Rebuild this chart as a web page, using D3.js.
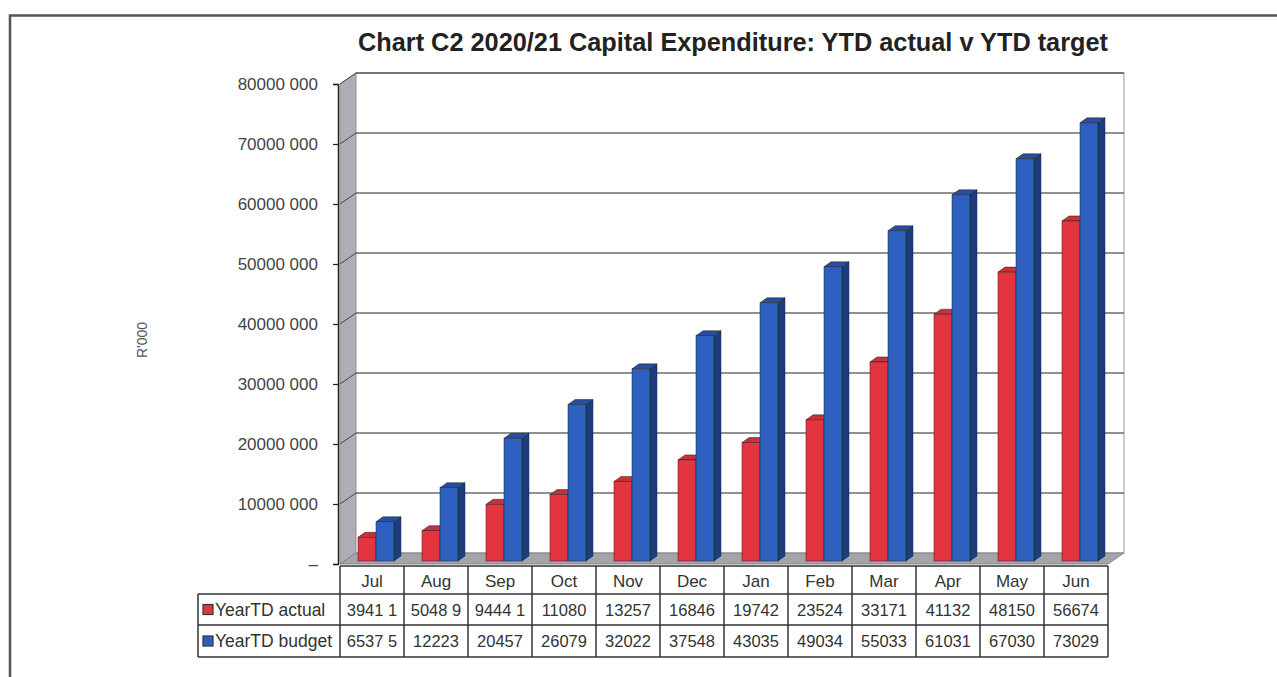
<!DOCTYPE html>
<html>
<head>
<meta charset="utf-8">
<script src="https://cdn.jsdelivr.net/npm/d3@7"></script>
<style>
  body { margin: 0; background: #fff; }
  svg { display: block; font-family: Arial, "Liberation Sans", sans-serif; }
</style>
</head>
<body>
<div id="chart"></div>
<script>
// months along the bottom
var months = ["Jul", "Aug", "Sep", "Oct", "Nov", "Dec", "Jan", "Feb", "Mar", "Apr", "May", "Jun"];
// YTD values (R'000)
var ytdActual = [3941100, 5048900, 9444100, 11080000, 13257000, 16846000, 19742000, 23524000, 33171000, 41132000, 48150000, 56674000];
var ytdBudget = [6537500, 12223000, 20457000, 26079000, 32022000, 37548000, 43035000, 49034000, 55033000, 61031000, 67030000, 73029000];
// text shown in the data table (as printed)
var actualLabels = ["3941 1", "5048 9", "9444 1", "11080", "13257", "16846", "19742", "23524", "33171", "41132", "48150", "56674"];
var budgetLabels = ["6537 5", "12223", "20457", "26079", "32022", "37548", "43035", "49034", "55033", "61031", "67030", "73029"];
var seriesNames = ["YearTD actual", "YearTD budget"];
var yTicks = [0, 10000000, 20000000, 30000000, 40000000, 50000000, 60000000, 70000000, 80000000];
var yTickLabels = ["\u2013", "10000 000", "20000 000", "30000 000", "40000 000", "50000 000", "60000 000", "70000 000", "80000 000"];

var W = 1277, H = 677;
var svg = d3.select("#chart").append("svg").attr("width", W).attr("height", H);

// page frame
svg.append("path").attr("d", "M10,677 L10,15.5 L1277,15.5")
  .attr("fill", "none").attr("stroke", "#555").attr("stroke-width", 2.5);

// title
svg.append("text")
  .attr("x", 733).attr("y", 51)
  .attr("text-anchor", "middle")
  .attr("font-family", "'Liberation Sans Narrow', 'Arial Narrow', Arial, sans-serif")
  .attr("font-weight", "bold").attr("font-size", 25)
  .attr("textLength", 750).attr("lengthAdjust", "spacingAndGlyphs")
  .attr("fill", "#222")
  .text("Chart C2 2020/21 Capital Expenditure: YTD actual v YTD target");

// scales
var x0 = 340, x1 = 1108;
var x = d3.scaleBand().domain(months).range([x0, x1]);
var y = d3.scaleLinear().domain([0, 80000000]).range([564, 84]);
var dx = 16, dy = -11; // wall depth

// side wall
svg.append("polygon")
  .attr("points", [[x0, y(80000000)], [x0 + dx, y(80000000) + dy], [x0 + dx, y(0) + dy], [x0, y(0)]].join(" "))
  .attr("fill", "#aeaeb8").attr("stroke", "#888").attr("stroke-width", 0.8);
// back wall
svg.append("rect")
  .attr("x", x0 + dx).attr("y", y(80000000) + dy)
  .attr("width", x1 - x0).attr("height", y(0) - y(80000000))
  .attr("fill", "#fff").attr("stroke", "#999").attr("stroke-width", 1);
// floor
svg.append("polygon")
  .attr("points", [[x0, y(0)], [x1, y(0)], [x1 + dx, y(0) + dy], [x0 + dx, y(0) + dy]].join(" "))
  .attr("fill", "#a4a4ac").attr("stroke", "#777").attr("stroke-width", 0.8);

// gridlines on back and side walls
var grid = svg.append("g");
yTicks.slice(1).forEach(function(v) {
  grid.append("line")
    .attr("x1", x0 + dx).attr("x2", x1 + dx)
    .attr("y1", y(v) + dy).attr("y2", y(v) + dy)
    .attr("stroke", "#222").attr("stroke-width", 1.2);
  grid.append("line")
    .attr("x1", x0).attr("x2", x0 + dx)
    .attr("y1", y(v)).attr("y2", y(v) + dy)
    .attr("stroke", "#444").attr("stroke-width", 1);
});

// y axis
var yAxis = svg.append("g")
  .attr("transform", "translate(" + (x0 - 2) + ",0)")
  .call(d3.axisLeft(y).tickValues(yTicks).tickSize(5).tickPadding(15)
    .tickFormat(function(d, i) { return yTickLabels[i]; }));
yAxis.select(".domain").attr("stroke", "#222").attr("stroke-width", 1.5);
yAxis.selectAll(".tick line").attr("stroke", "#222").attr("stroke-width", 1.2);
yAxis.selectAll(".tick text").attr("font-size", 17).attr("fill", "#444")
  .attr("font-family", "Arial, 'Liberation Sans', sans-serif");

svg.append("text")
  .attr("transform", "translate(147,340) rotate(-90)")
  .attr("text-anchor", "middle").attr("font-size", 14).attr("fill", "#555")
  .text("R'000");

// bars
var barW = 18, bdx = 7, bdy = -5, shiftX = 4, shiftY = -3;
var colors = [
  { front: "#e3353f", side: "#a51e28", top: "#c8303a" },
  { front: "#2d5fbe", side: "#1d3d80", top: "#274f9e" }
];
var bars = [];
months.forEach(function(m, i) {
  bars.push({ m: m, s: 0, v: ytdActual[i] });
  bars.push({ m: m, s: 1, v: ytdBudget[i] });
});
var bg = svg.append("g").selectAll("g").data(bars).enter().append("g")
  .attr("transform", function(d) {
    var cx = x(d.m) + x.bandwidth() / 2 + shiftX;
    return "translate(" + (cx - barW + d.s * barW) + "," + shiftY + ")";
  });
bg.append("polygon")
  .attr("points", function(d) {
    var t = y(d.v), b = y(0);
    return [[barW, t], [barW + bdx, t + bdy], [barW + bdx, b + bdy], [barW, b]].join(" ");
  })
  .attr("fill", function(d) { return colors[d.s].side; })
  .attr("stroke", "#222").attr("stroke-width", 0.5);
bg.append("polygon")
  .attr("points", function(d) {
    var t = y(d.v);
    return [[0, t], [bdx, t + bdy], [barW + bdx, t + bdy], [barW, t]].join(" ");
  })
  .attr("fill", function(d) { return colors[d.s].top; })
  .attr("stroke", "#222").attr("stroke-width", 0.5);
bg.append("rect")
  .attr("x", 0).attr("y", function(d) { return y(d.v); })
  .attr("width", barW).attr("height", function(d) { return y(0) - y(d.v); })
  .attr("fill", function(d) { return colors[d.s].front; })
  .attr("stroke", "#222").attr("stroke-width", 0.5);

// data table
var rowTop = [566, 594, 625, 657];
var labelX = 198;
var table = svg.append("g").attr("stroke", "#333").attr("stroke-width", 1.5).attr("fill", "none");
table.append("line").attr("x1", x0).attr("x2", x1).attr("y1", rowTop[0]).attr("y2", rowTop[0]);
[1, 2, 3].forEach(function(r) {
  table.append("line").attr("x1", labelX).attr("x2", x1).attr("y1", rowTop[r]).attr("y2", rowTop[r]);
});
table.append("line").attr("x1", labelX).attr("x2", labelX).attr("y1", rowTop[1]).attr("y2", rowTop[3]);
months.forEach(function(m) {
  table.append("line").attr("x1", x(m)).attr("x2", x(m)).attr("y1", rowTop[0]).attr("y2", rowTop[3]);
});
table.append("line").attr("x1", x1).attr("x2", x1).attr("y1", rowTop[0]).attr("y2", rowTop[3]);

var tt = svg.append("g").attr("font-size", 17).attr("fill", "#333").attr("text-anchor", "middle");
months.forEach(function(m, i) {
  var cx = x(m) + x.bandwidth() / 2;
  tt.append("text").attr("x", cx).attr("y", 587).text(m);
  tt.append("text").attr("x", cx).attr("y", 616).attr("font-size", 16.5).text(actualLabels[i]);
  tt.append("text").attr("x", cx).attr("y", 647).attr("font-size", 16.5).text(budgetLabels[i]);
});
seriesNames.forEach(function(n, i) {
  var ym = (rowTop[i + 1] + rowTop[i + 2]) / 2;
  svg.append("rect").attr("x", 203).attr("y", ym - 5).attr("width", 10).attr("height", 10)
    .attr("fill", colors[i].front).attr("stroke", "#333").attr("stroke-width", 1.2);
  svg.append("text").attr("x", 215).attr("y", ym + 6).attr("font-size", 17.5).attr("fill", "#333")
    .text(n);
});
</script>
</body>
</html>
